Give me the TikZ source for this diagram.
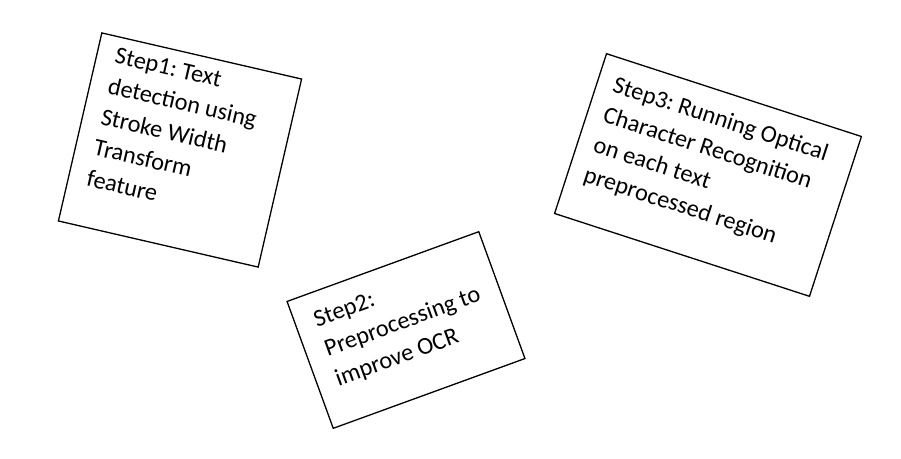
\documentclass[tikz,border=0pt]{standalone}
\usepackage{fontspec}
\setmainfont{Carlito}
\usepackage{tikz}
\usetikzlibrary{positioning}

\frenchspacing
\newcommand{\steptextfont}{\fontsize{24.3}{31.5}\selectfont}

\begin{document}
\begin{tikzpicture}[x=1pt,y=-1pt]
    \tikzstyle{stepbox}=[draw, line width=1.3pt, inner sep=0pt]
    \tikzstyle{steptext}=[anchor=north west, align=left, font=\steptextfont]

    \useasboundingbox (0,0) rectangle (901,458);

    % step 1
    \node[stepbox, rotate=-13, minimum width=205pt, minimum height=193pt]
        (s1) at (180,150) {};
    \node[steptext, rotate=-13, inner xsep=19pt, inner ysep=11pt]
        (t1) at (s1.north west)
        {Step1: Text\\detection using\\Stroke Width\\Transform\\feature};

    % step 2
    \node[stepbox, rotate=20, minimum width=204pt, minimum height=135pt]
        (s2) at (406,330) {};
    \node[steptext, rotate=20, inner xsep=20pt, inner ysep=19pt]
        (t2) at (s2.north west)
        {Step2:\\Preprocessing to\\improve OCR};

    % step 3
    \node[stepbox, rotate=-18, minimum width=268pt, minimum height=168pt]
        (s3) at (708,175) {};
    \node[steptext, rotate=-18, inner xsep=17pt, inner ysep=18pt]
        (t3) at (s3.north west)
        {Step3: Running Optical\\Character Recognition\\on each text\\preprocessed region};
\end{tikzpicture}
\end{document}
